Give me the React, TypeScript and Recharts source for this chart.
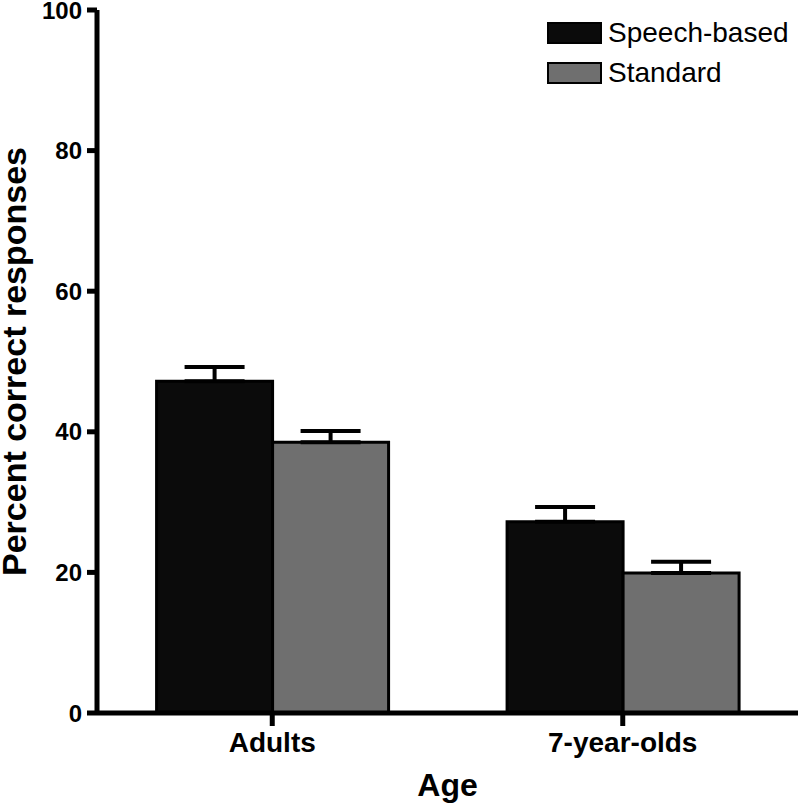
import { BarChart, Bar, XAxis, YAxis, ErrorBar, Legend } from 'recharts';

const groups = ['Adults', '7-year-olds'];
const speechBased = [47.2, 27.2];
const speechErr = [2.0, 2.1];
const standard = [38.5, 19.9];
const standardErr = [1.6, 1.6];
const yTicks = [0, 20, 40, 60, 80, 100];

const font = '"Liberation Sans", Arial, Helvetica, sans-serif';
const colors = { speech: '#0b0b0b', standard: '#6f6f6f', ink: '#000' };

// upper-only error bars: [below, above]
const data = groups.map((g, i) => ({
  group: g,
  speech: speechBased[i],
  speechErr: [0, speechErr[i]],
  standard: standard[i],
  standardErr: [0, standardErr[i]],
}));

function LegendBox({ payload }: any) {
  return (
    <div style={{ fontFamily: font }}>
      {(payload || []).map((p: any) => (
        <div key={p.value} style={{ display: 'flex', alignItems: 'center', height: 40 }}>
          <div
            style={{
              width: 51,
              height: 18,
              background: p.color,
              border: '2px solid #000',
              marginRight: 6,
            }}
          />
          <span style={{ fontSize: 28, color: '#000', lineHeight: '28px' }}>{p.value}</span>
        </div>
      ))}
    </div>
  );
}

function YTitle(props: any) {
  const vb = props.viewBox || {};
  const cy = vb.y + vb.height / 2;
  return (
    <text
      transform={`translate(26, ${cy}) rotate(-90)`}
      textAnchor="middle"
      fontFamily={font}
      fontWeight="bold"
      fontSize={34}
      fill="#000"
    >
      Percent correct responses
    </text>
  );
}

export default function App() {
  return (
    <div style={{ position: 'absolute', left: 0, top: 0, background: '#fff' }}>
      <BarChart
        width={800}
        height={806}
        data={data}
        margin={{ top: 10, right: 2, left: 0, bottom: 0 }}
        barCategoryGap="17%"
        barGap={0}
      >
        <XAxis
          dataKey="group"
          height={93}
          stroke={colors.ink}
          strokeWidth={5}
          tickSize={13}
          tickMargin={6}
          tick={{ fontSize: 28, fontWeight: 'bold', fill: '#000', fontFamily: font }}
          label={{
            value: 'Age',
            position: 'insideBottom',
            offset: 10,
            style: { fontSize: 32, fontWeight: 'bold', fill: '#000', fontFamily: font },
          }}
        />
        <YAxis
          width={97}
          domain={[0, 100]}
          ticks={yTicks}
          interval={0}
          stroke={colors.ink}
          strokeWidth={5}
          tickSize={10}
          tickMargin={5}
          tick={{ fontSize: 24, fontWeight: 'bold', fill: '#000', fontFamily: font }}
          label={{ content: YTitle }}
        />
        <Legend
          layout="horizontal"
          verticalAlign="middle"
          align="center"
          content={LegendBox}
          wrapperStyle={{ top: 13, left: 547, width: 'auto', height: 'auto' }}
        />
        <Bar
          dataKey="speech"
          name="Speech-based"
          fill={colors.speech}
          stroke="#000"
          strokeWidth={3}
          isAnimationActive={false}
        >
          <ErrorBar dataKey="speechErr" width={30} strokeWidth={4} stroke="#000" direction="y" />
        </Bar>
        <Bar
          dataKey="standard"
          name="Standard"
          fill={colors.standard}
          stroke="#000"
          strokeWidth={3}
          isAnimationActive={false}
        >
          <ErrorBar dataKey="standardErr" width={30} strokeWidth={4} stroke="#000" direction="y" />
        </Bar>
      </BarChart>
    </div>
  );
}
